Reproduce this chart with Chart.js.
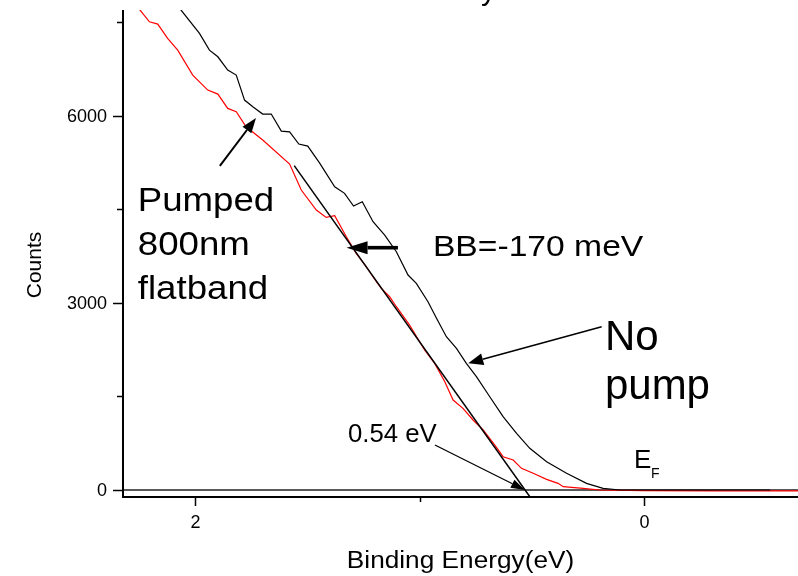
<!DOCTYPE html>
<html>
<head>
<meta charset="utf-8">
<script src="https://cdn.jsdelivr.net/npm/chart.js@4.4.0/dist/chart.umd.min.js"></script>
<style>
  html, body { margin: 0; padding: 0; background: #fff; }
  #wrap { width: 798px; height: 576px; position: relative; }
</style>
</head>
<body>
<div id="wrap"><canvas id="chart"></canvas></div>
<script>
// Binding energy (eV) and counts
const noPumpE = [2.10, 2.064, 1.982, 1.9375, 1.900, 1.856, 1.818, 1.781, 1.744, 1.700, 1.662, 1.617, 1.580, 1.539, 1.499, 1.446, 1.379, 1.335, 1.295, 1.256, 1.208, 1.156, 1.104, 1.052, 1.015, 0.963, 0.925, 0.881, 0.836, 0.792, 0.747, 0.6875, 0.628, 0.568, 0.509, 0.434, 0.345, 0.256, 0.182, 0.107, 0.0, -0.2, -0.4, -0.5625];
const noPumpCounts = [7950, 7692, 7319, 7051, 6944, 6731, 6651, 6250, 6143, 6026, 6026, 5753, 5742, 5545, 5513, 5240, 4861, 4755, 4551, 4620, 4300, 4087, 3819, 3446, 3313, 3018, 2752, 2457, 2271, 2030, 1816, 1495, 1175, 909, 668, 454, 268, 107, 27, 0, 0, 0, 0, 0];

const pumpedE = [2.28, 2.247, 2.205, 2.168, 2.124, 2.079, 2.012, 1.945, 1.900, 1.856, 1.818, 1.774, 1.700, 1.580, 1.528, 1.461, 1.417, 1.379, 1.327, 1.283, 1.238, 1.193, 1.171, 1.134, 1.104, 1.045, 0.978, 0.933, 0.888, 0.851, 0.807, 0.762, 0.717, 0.665, 0.628, 0.583, 0.546, 0.494, 0.434, 0.383, 0.360, 0.271, 0.196, 0.0, -0.3, -0.687];
const pumpedCounts = [7900, 7692, 7505, 7468, 7238, 7051, 6651, 6410, 6346, 6117, 6063, 5822, 5609, 5224, 4808, 4487, 4370, 4396, 4059, 3793, 3579, 3338, 3232, 3098, 2938, 2644, 2244, 2030, 1736, 1442, 1309, 1122, 962, 721, 534, 481, 348, 268, 171, 107, 53, 27, 0, -10, -15, -15];

// linear edge fit and zero line
const fitE = [1.5595, 0.508];
const fitCounts = [5199, -112];
const baseE = [2.323, -0.687];
const baseCounts = [0, 0];

const xTicks = [2, 1, 0];
const xTickLabels = ["2", "", "0"];
const yTicks = [0, 1500, 3000, 4500, 6000, 7500];
const yTickLabels = ["0", "", "3000", "", "6000", ""];

const FONT = '"Liberation Sans", Arial, sans-serif';

// annotations, anchored in data units (energy, counts)
const notes = [
  { lines: ["Pumped", "800nm", "flatband"], e: 2.257, c: 4472, size: 33, sx: 1.11, lh: 44 },
  { lines: ["BB=-170 meV"], e: 0.941, c: 3756, size: 29, sx: 1.16, lh: 0 },
  { lines: ["No", "pump"], e: 0.174, c: 2244, size: 42, sx: 1.0, lh: 49 },
  { lines: ["0.54 eV"], e: 1.320, c: 774, size: 25, sx: 1.03, lh: 0 }
];
const arrows = [
  { from: [1.891, 5194], to: [1.730, 5963], w: 2, hl: 15, hw: 11 },
  { from: [1.097, 3884], to: [1.326, 3884], w: 3.6, hl: 21, hw: 13 },
  { from: [0.1886, 2618], to: [0.7835, 2031], w: 1.5, hl: 15, hw: 12 },
  { from: [0.932, 721], to: [0.5307, 0], w: 1.3, hl: 14, hw: 9 }
];

function pts(xs, ys) {
  return xs.map((v, i) => ({ x: v, y: ys[i] }));
}

function drawText(ctx, text, x, y, size, sx, align) {
  ctx.save();
  ctx.translate(x, y);
  ctx.scale(sx, 1);
  ctx.font = size + 'px ' + FONT;
  ctx.textAlign = align || 'left';
  ctx.textBaseline = 'alphabetic';
  ctx.fillText(text, 0, 0);
  ctx.restore();
}

function drawArrow(ctx, x1, y1, x2, y2, w, hl, hw) {
  const a = Math.atan2(y2 - y1, x2 - x1);
  const bx = x2 - hl * Math.cos(a), by = y2 - hl * Math.sin(a);
  ctx.lineWidth = w;
  ctx.beginPath();
  ctx.moveTo(x1, y1);
  ctx.lineTo(bx, by);
  ctx.stroke();
  ctx.beginPath();
  ctx.moveTo(x2, y2);
  ctx.lineTo(bx + hw / 2 * Math.sin(a), by - hw / 2 * Math.cos(a));
  ctx.lineTo(bx - hw / 2 * Math.sin(a), by + hw / 2 * Math.cos(a));
  ctx.closePath();
  ctx.fill();
}

const igorAxes = {
  id: 'igorAxes',
  afterDraw(chart) {
    const { ctx, chartArea: area, scales: { x, y } } = chart;
    ctx.save();
    ctx.strokeStyle = '#000';
    ctx.fillStyle = '#000';

    // axis lines
    ctx.lineWidth = 2;
    ctx.beginPath();
    ctx.moveTo(area.left, area.top);
    ctx.lineTo(area.left, area.bottom);
    ctx.lineTo(area.right, area.bottom);
    ctx.stroke();

    // y ticks
    ctx.lineWidth = 1.5;
    ctx.font = '18px ' + FONT;
    yTicks.forEach((v, i) => {
      const py = Math.round(y.getPixelForValue(v)) + 0.5;
      const len = yTickLabels[i] ? 10 : 6;
      ctx.beginPath();
      ctx.moveTo(area.left - len, py);
      ctx.lineTo(area.left, py);
      ctx.stroke();
      if (yTickLabels[i]) {
        ctx.textAlign = 'right';
        ctx.textBaseline = 'middle';
        ctx.fillText(yTickLabels[i], area.left - 16, py + 1);
      }
    });

    // x ticks
    xTicks.forEach((v, i) => {
      const px = Math.round(x.getPixelForValue(v)) + 0.5;
      const len = xTickLabels[i] ? 9 : 5;
      ctx.beginPath();
      ctx.moveTo(px, area.bottom);
      ctx.lineTo(px, area.bottom + len);
      ctx.stroke();
      if (xTickLabels[i]) {
        ctx.textAlign = 'center';
        ctx.textBaseline = 'middle';
        ctx.fillText(xTickLabels[i], px, area.bottom + 26);
      }
    });

    // axis titles
    drawText(ctx, 'Binding Energy(eV)', (area.left + area.right) / 2, 568, 23, 1.14, 'center');
    ctx.save();
    ctx.translate(41, 265);
    ctx.rotate(-Math.PI / 2);
    ctx.font = '21px ' + FONT;
    ctx.textAlign = 'center';
    ctx.textBaseline = 'alphabetic';
    ctx.fillText('Counts', 0, 0);
    ctx.restore();

    // cut-off letter of the original heading
    drawText(ctx, 'y', 481, 0, 30, 1, 'left');

    // annotation text
    notes.forEach(n => {
      const px = x.getPixelForValue(n.e);
      const py = y.getPixelForValue(n.c);
      n.lines.forEach((t, k) => drawText(ctx, t, px, py + k * n.lh, n.size, n.sx, 'left'));
    });
    // E_F
    const ex = x.getPixelForValue(0.0446), ey = y.getPixelForValue(348);
    drawText(ctx, 'E', ex, ey, 26, 1, 'left');
    drawText(ctx, 'F', ex + 17, ey + 10, 14, 1, 'left');

    // arrows
    arrows.forEach(a => {
      drawArrow(ctx,
        x.getPixelForValue(a.from[0]), y.getPixelForValue(a.from[1]),
        x.getPixelForValue(a.to[0]), y.getPixelForValue(a.to[1]),
        a.w, a.hl, a.hw);
    });
    ctx.restore();
  }
};

new Chart(document.getElementById('chart'), {
  type: 'line',
  data: {
    datasets: [
      { label: 'fit', data: pts(fitE, fitCounts), borderColor: '#000', borderWidth: 1.5 },
      { label: 'No pump', data: pts(noPumpE, noPumpCounts), borderColor: '#000', borderWidth: 1.2 },
      { label: 'Pumped 800nm flatband', data: pts(pumpedE, pumpedCounts), borderColor: '#ff0000', borderWidth: 1.2 },
      { label: 'zero', data: pts(baseE, baseCounts), borderColor: '#222', borderWidth: 1.4 }
    ]
  },
  options: {
    responsive: true,
    maintainAspectRatio: false,
    animation: false,
    parsing: true,
    elements: { point: { radius: 0 }, line: { tension: 0 } },
    layout: { padding: { left: 123, top: 10, right: 0, bottom: 79 } },
    plugins: { legend: { display: false }, tooltip: { enabled: false } },
    scales: {
      x: { type: 'linear', reverse: true, min: -0.687, max: 2.323, display: false },
      y: { type: 'linear', min: -112, max: 7694, display: false }
    }
  },
  plugins: [igorAxes]
});
</script>
</body>
</html>
